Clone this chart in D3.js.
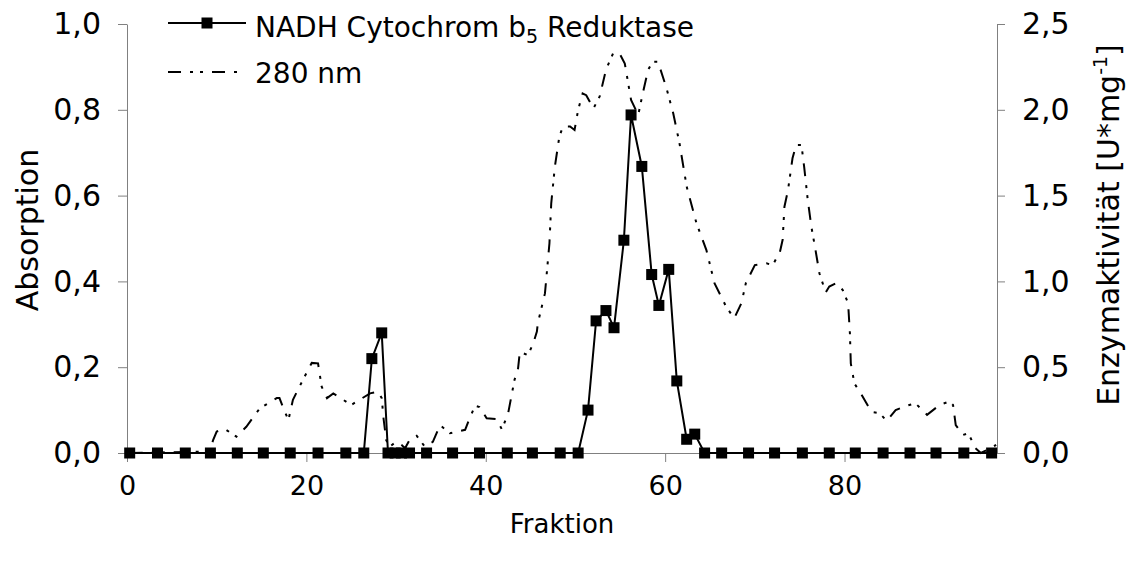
<!DOCTYPE html>
<html lang="de">
<head>
<meta charset="UTF-8">
<title>Fraktionierung</title>
<script src="https://d3js.org/d3.v7.min.js"></script>
<style>
  body { margin: 0; background: #fff; }
  text { font-family: "DejaVu Sans", sans-serif; fill: #000; }
</style>
</head>
<body>
<div id="chart"></div>
<script>
// 280 nm absorption trace (left axis)
var fraktion280 = [0.3, 8.1, 9.3, 9.6, 10.0, 10.9, 12.2, 13.3, 14.8, 16.7, 17.0, 17.6, 18.0, 18.5, 19.6, 20.6, 21.3, 21.7, 22.3, 23.0,
  25.0, 27.1, 28.0, 28.4, 28.6, 28.9, 29.3, 30.0, 30.6, 31.0, 31.5, 32.3, 33.2, 34.1, 34.9, 36.0, 37.7, 38.2, 38.8, 39.3,
  40.1, 41.2, 41.8, 42.5, 43.2, 43.6, 43.8, 44.7, 45.3, 45.7, 45.8, 46.6, 47.1, 47.3, 47.7, 48.2, 48.6, 49.4, 49.9, 50.3,
  50.8, 51.2, 52.0, 52.7, 53.4, 54.2, 54.9, 55.5, 56.2, 57.0, 57.5, 58.1, 58.6, 59.2, 60.1, 60.9, 61.6, 62.4, 63.5, 64.6,
  65.5, 66.8, 67.7, 68.5, 69.0, 70.0, 71.3, 72.0, 72.8, 73.1, 73.3, 73.7, 74.2, 74.6, 75.2, 75.5, 75.9, 76.3, 76.7, 77.2,
  77.9, 78.3, 79.1, 79.8, 80.4, 80.6, 80.7, 81.1, 81.7, 83.0, 83.9, 84.7, 85.7, 86.9, 87.9, 89.2, 90.6, 91.7, 92.1, 92.4,
  93.2, 93.8, 94.6, 95.2, 96.3, 96.9];
var absorption = [0.0, 0.003, 0.01, 0.030, 0.050, 0.056, 0.038, 0.061, 0.104, 0.128, 0.128, 0.096, 0.077, 0.124, 0.170, 0.210, 0.209, 0.155, 0.128, 0.139,
  0.112, 0.139, 0.143, 0.128, 0.081, 0.030, 0.015, 0.026, 0.019, 0.011, 0.030, 0.040, 0.015, 0.026, 0.065, 0.046, 0.054, 0.081, 0.110, 0.107,
  0.081, 0.079, 0.055, 0.093, 0.170, 0.197, 0.236, 0.228, 0.256, 0.283, 0.302, 0.372, 0.489, 0.582, 0.667, 0.737, 0.761, 0.761, 0.753, 0.800,
  0.838, 0.834, 0.803, 0.831, 0.893, 0.932, 0.932, 0.908, 0.823, 0.788, 0.838, 0.893, 0.912, 0.912, 0.854, 0.792, 0.722, 0.621, 0.535, 0.473,
  0.396, 0.341, 0.314, 0.349, 0.396, 0.438, 0.442, 0.438, 0.469, 0.497, 0.574, 0.613, 0.687, 0.718, 0.718, 0.667, 0.590, 0.528, 0.481, 0.419,
  0.374, 0.388, 0.396, 0.380, 0.349, 0.279, 0.209, 0.162, 0.143, 0.096, 0.093, 0.075, 0.100, 0.110, 0.116, 0.089, 0.112, 0.120, 0.112, 0.065,
  0.042, 0.046, 0.011, 0.0, 0.011, 0.019];

// enzyme activity (right axis)
var fraktionEnzym = [0.3, 3.4, 6.5, 9.3, 12.3, 15.2, 18.2, 21.3, 24.4, 26.4, 27.3, 28.4, 29.1, 29.9, 30.6, 31.5,
  33.4, 36.3, 39.3, 42.4, 45.2, 48.3, 50.3, 51.4, 52.3, 53.4, 54.3, 55.4, 56.2, 57.4, 58.5, 59.3,
  60.4, 61.3, 62.4, 63.3, 64.4, 66.3, 69.3, 72.2, 75.3, 78.3, 81.2, 84.3, 87.3, 90.2, 93.3, 96.4];
var aktivitaet = [0, 0, 0, 0, 0, 0, 0, 0, 0, 0, 0.55, 0.70, 0, 0, 0, 0,
  0, 0, 0, 0, 0, 0, 0, 0.25, 0.77, 0.83, 0.73, 1.24, 1.97, 1.67, 1.04, 0.86,
  1.07, 0.42, 0.08, 0.11, 0, 0, 0, 0, 0, 0, 0, 0, 0, 0, 0, 0];

var xTicks = [0, 20, 40, 60, 80];
var yLeftTicks = [0, 0.2, 0.4, 0.6, 0.8, 1.0];
var yRightTicks = [0, 0.5, 1.0, 1.5, 2.0, 2.5];

var w = 1129, h = 565;
var plotLeft = 127, plotRight = 997, plotTop = 24, plotBottom = 453;

var svg = d3.select("#chart").append("svg")
    .attr("width", w)
    .attr("height", h);

var x = d3.scaleLinear().domain([0, 97]).range([plotLeft, plotRight]);
var yL = d3.scaleLinear().domain([0, 1]).range([plotBottom, plotTop]);
var yR = d3.scaleLinear().domain([0, 2.5]).range([plotBottom, plotTop]);

var komma = function (d) { return d3.format(".1f")(d).replace(".", ","); };

function styleAxis(size) {
    return function (g) {
        g.selectAll("path, line").attr("stroke", "#808080").attr("stroke-width", 1);
        g.selectAll("text").style("font-size", size).attr("fill", "#000");
    };
}

svg.append("g")
    .attr("transform", "translate(0," + plotBottom + ")")
    .call(d3.axisBottom(x).tickValues(xTicks).tickSize(9).tickSizeOuter(0).tickPadding(14))
    .call(styleAxis("27px"));

svg.append("g")
    .attr("transform", "translate(" + plotLeft + ",0)")
    .call(d3.axisLeft(yL).tickValues(yLeftTicks).tickFormat(komma).tickSize(9).tickSizeOuter(0).tickPadding(17))
    .call(styleAxis("30px"));

svg.append("g")
    .attr("transform", "translate(" + plotRight + ",0)")
    .call(d3.axisRight(yR).tickValues(yRightTicks).tickFormat(komma).tickSize(8).tickSizeOuter(0).tickPadding(17))
    .call(styleAxis("30px"));

// 280 nm line
var line280 = d3.line()
    .x(function (d, i) { return x(fraktion280[i]); })
    .y(function (d) { return yL(d); });

var dashes = "13,9,3,7,3,9";

svg.append("path")
    .attr("d", line280(absorption))
    .attr("fill", "none")
    .attr("stroke", "#000")
    .attr("stroke-width", 2)
    .attr("stroke-dasharray", dashes);

// enzyme line + markers
var lineEnz = d3.line()
    .x(function (d, i) { return x(fraktionEnzym[i]); })
    .y(function (d) { return yR(d); });

svg.append("path")
    .attr("d", lineEnz(aktivitaet))
    .attr("fill", "none")
    .attr("stroke", "#000")
    .attr("stroke-width", 2);

var ms = 11;
svg.selectAll("rect.marker")
    .data(aktivitaet)
    .enter()
    .append("rect")
    .attr("class", "marker")
    .attr("x", function (d, i) { return x(fraktionEnzym[i]) - ms / 2; })
    .attr("y", function (d) { return yR(d) - ms / 2; })
    .attr("width", ms)
    .attr("height", ms)
    .attr("fill", "#000");

// axis titles
svg.append("text")
    .attr("x", (plotLeft + plotRight) / 2)
    .attr("y", 533)
    .attr("text-anchor", "middle")
    .style("font-size", "26px")
    .text("Fraktion");

svg.append("text")
    .attr("transform", "translate(38,230) rotate(-90)")
    .attr("text-anchor", "middle")
    .style("font-size", "30px")
    .text("Absorption");

var rt = svg.append("text")
    .attr("transform", "translate(1119,225) rotate(-90)")
    .attr("text-anchor", "middle")
    .style("font-size", "30px");
rt.append("tspan").text("Enzymaktivität [U*mg");
rt.append("tspan").attr("dy", -12).style("font-size", "19px").text("-1");
rt.append("tspan").attr("dy", 12).text("]");

// legend
var lg = svg.append("g");
lg.append("line")
    .attr("x1", 168).attr("x2", 246).attr("y1", 23).attr("y2", 23)
    .attr("stroke", "#000").attr("stroke-width", 2);
lg.append("rect")
    .attr("x", 207 - ms / 2).attr("y", 23 - ms / 2)
    .attr("width", ms).attr("height", ms).attr("fill", "#000");
var t1 = lg.append("text").attr("x", 255).attr("y", 37).style("font-size", "28px");
t1.append("tspan").text("NADH Cytochrom b");
t1.append("tspan").attr("dy", 6).style("font-size", "19px").text("5");
t1.append("tspan").attr("dy", -6).text(" Reduktase");

lg.append("line")
    .attr("x1", 168).attr("x2", 237).attr("y1", 72).attr("y2", 72)
    .attr("stroke", "#000").attr("stroke-width", 2)
    .attr("stroke-dasharray", dashes);
lg.append("text").attr("x", 255).attr("y", 83).style("font-size", "28px").text("280 nm");
</script>
</body>
</html>
